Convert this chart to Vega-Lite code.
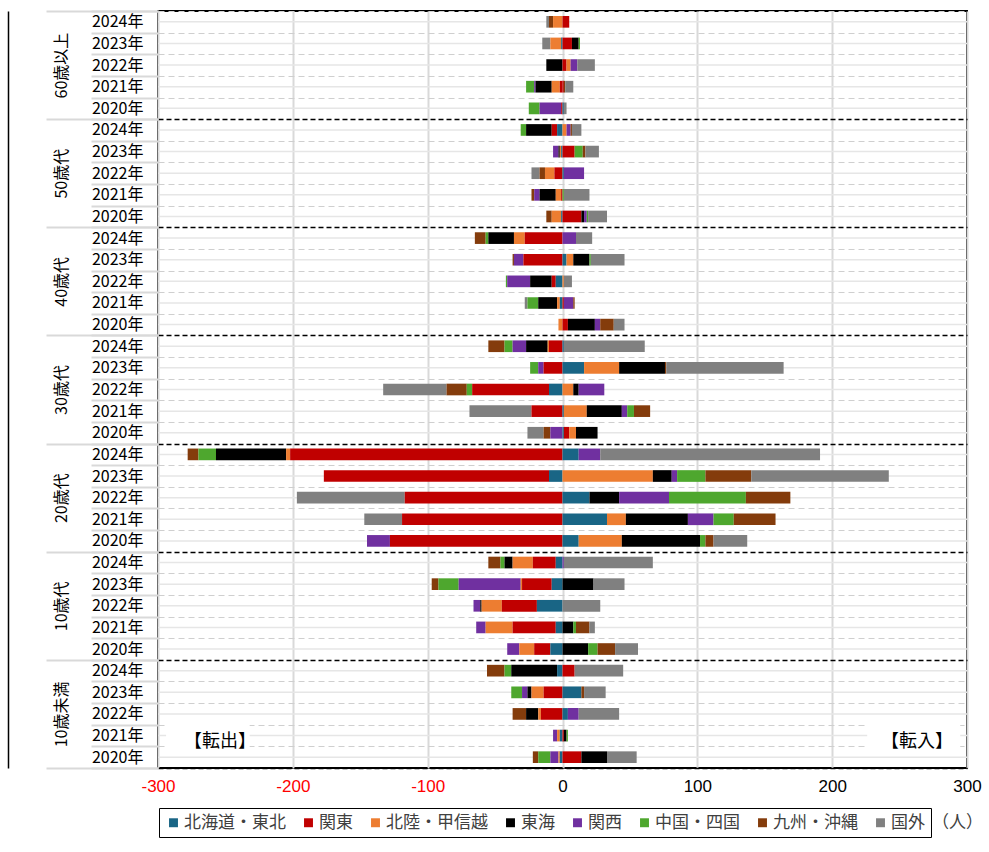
{
  "$schema": "https://vega.github.io/schema/vega-lite/v6.json",
  "width": 809,
  "height": 757,
  "autosize": "none",
  "padding": {"left": 158, "top": 11, "right": 22, "bottom": 84},
  "background": "white",
  "config": {"view": {"stroke": "black", "strokeWidth": 2}, "font": "Noto Sans CJK JP"},
  "datasets": {
    "d": [
      {"k":"60歳以上|2024年","r":"国外","v":-2},{"k":"60歳以上|2024年","r":"九州・沖縄","v":-3},{"k":"60歳以上|2024年","r":"北陸・甲信越","v":-7},{"k":"60歳以上|2024年","r":"関東","v":5},
      {"k":"60歳以上|2023年","r":"国外","v":-6},{"k":"60歳以上|2023年","r":"北陸・甲信越","v":-8},{"k":"60歳以上|2023年","r":"北海道・東北","v":-1},{"k":"60歳以上|2023年","r":"関東","v":7},{"k":"60歳以上|2023年","r":"東海","v":5},{"k":"60歳以上|2023年","r":"中国・四国","v":1},
      {"k":"60歳以上|2022年","r":"東海","v":-12},{"k":"60歳以上|2022年","r":"関東","v":3},{"k":"60歳以上|2022年","r":"北陸・甲信越","v":3},{"k":"60歳以上|2022年","r":"関西","v":5},{"k":"60歳以上|2022年","r":"国外","v":13},
      {"k":"60歳以上|2021年","r":"中国・四国","v":-6},{"k":"60歳以上|2021年","r":"関西","v":-1},{"k":"60歳以上|2021年","r":"東海","v":-12},{"k":"60歳以上|2021年","r":"北陸・甲信越","v":-6},{"k":"60歳以上|2021年","r":"関東","v":-2},{"k":"60歳以上|2021年","r":"関東","v":1},{"k":"60歳以上|2021年","r":"九州・沖縄","v":1},{"k":"60歳以上|2021年","r":"国外","v":6},
      {"k":"60歳以上|2020年","r":"中国・四国","v":-8},{"k":"60歳以上|2020年","r":"関西","v":-16},{"k":"60歳以上|2020年","r":"関東","v":-1},{"k":"60歳以上|2020年","r":"北海道・東北","v":1},{"k":"60歳以上|2020年","r":"国外","v":2},

      {"k":"50歳代|2024年","r":"中国・四国","v":-4},{"k":"50歳代|2024年","r":"東海","v":-19},{"k":"50歳代|2024年","r":"関東","v":-4},{"k":"50歳代|2024年","r":"北海道・東北","v":-4},{"k":"50歳代|2024年","r":"北陸・甲信越","v":3},{"k":"50歳代|2024年","r":"関西","v":3},{"k":"50歳代|2024年","r":"九州・沖縄","v":1},{"k":"50歳代|2024年","r":"国外","v":7},
      {"k":"50歳代|2023年","r":"関西","v":-4},{"k":"50歳代|2023年","r":"東海","v":-1},{"k":"50歳代|2023年","r":"北陸・甲信越","v":-1},{"k":"50歳代|2023年","r":"北海道・東北","v":-1},{"k":"50歳代|2023年","r":"関東","v":9},{"k":"50歳代|2023年","r":"中国・四国","v":6},{"k":"50歳代|2023年","r":"九州・沖縄","v":2},{"k":"50歳代|2023年","r":"国外","v":10},
      {"k":"50歳代|2022年","r":"国外","v":-6},{"k":"50歳代|2022年","r":"九州・沖縄","v":-4},{"k":"50歳代|2022年","r":"北陸・甲信越","v":-7},{"k":"50歳代|2022年","r":"関東","v":-6},{"k":"50歳代|2022年","r":"北海道・東北","v":1},{"k":"50歳代|2022年","r":"関西","v":15},
      {"k":"50歳代|2021年","r":"九州・沖縄","v":-2},{"k":"50歳代|2021年","r":"関西","v":-4},{"k":"50歳代|2021年","r":"東海","v":-12},{"k":"50歳代|2021年","r":"北陸・甲信越","v":-4},{"k":"50歳代|2021年","r":"関東","v":-1},{"k":"50歳代|2021年","r":"中国・四国","v":1},{"k":"50歳代|2021年","r":"国外","v":19},
      {"k":"50歳代|2020年","r":"九州・沖縄","v":-4},{"k":"50歳代|2020年","r":"北陸・甲信越","v":-7},{"k":"50歳代|2020年","r":"北海道・東北","v":-1},{"k":"50歳代|2020年","r":"関東","v":14},{"k":"50歳代|2020年","r":"東海","v":2},{"k":"50歳代|2020年","r":"関西","v":2},{"k":"50歳代|2020年","r":"中国・四国","v":1},{"k":"50歳代|2020年","r":"国外","v":14},

      {"k":"40歳代|2024年","r":"九州・沖縄","v":-8},{"k":"40歳代|2024年","r":"中国・四国","v":-2},{"k":"40歳代|2024年","r":"東海","v":-19},{"k":"40歳代|2024年","r":"北陸・甲信越","v":-8},{"k":"40歳代|2024年","r":"関東","v":-28},{"k":"40歳代|2024年","r":"関西","v":10},{"k":"40歳代|2024年","r":"国外","v":12},
      {"k":"40歳代|2023年","r":"九州・沖縄","v":-1},{"k":"40歳代|2023年","r":"関西","v":-7},{"k":"40歳代|2023年","r":"関東","v":-29},{"k":"40歳代|2023年","r":"北海道・東北","v":3},{"k":"40歳代|2023年","r":"北陸・甲信越","v":5},{"k":"40歳代|2023年","r":"東海","v":12},{"k":"40歳代|2023年","r":"中国・四国","v":1},{"k":"40歳代|2023年","r":"国外","v":25},
      {"k":"40歳代|2022年","r":"中国・四国","v":-1},{"k":"40歳代|2022年","r":"関西","v":-17},{"k":"40歳代|2022年","r":"東海","v":-16},{"k":"40歳代|2022年","r":"関東","v":-3},{"k":"40歳代|2022年","r":"北海道・東北","v":-5},{"k":"40歳代|2022年","r":"北陸・甲信越","v":1},{"k":"40歳代|2022年","r":"国外","v":6},
      {"k":"40歳代|2021年","r":"国外","v":-2},{"k":"40歳代|2021年","r":"中国・四国","v":-8},{"k":"40歳代|2021年","r":"東海","v":-14},{"k":"40歳代|2021年","r":"北陸・甲信越","v":-2},{"k":"40歳代|2021年","r":"北海道・東北","v":-2},{"k":"40歳代|2021年","r":"関東","v":1},{"k":"40歳代|2021年","r":"関西","v":7},{"k":"40歳代|2021年","r":"九州・沖縄","v":1},
      {"k":"40歳代|2020年","r":"北陸・甲信越","v":-3},{"k":"40歳代|2020年","r":"関東","v":4},{"k":"40歳代|2020年","r":"東海","v":20},{"k":"40歳代|2020年","r":"関西","v":4},{"k":"40歳代|2020年","r":"九州・沖縄","v":10},{"k":"40歳代|2020年","r":"国外","v":8},

      {"k":"30歳代|2024年","r":"九州・沖縄","v":-12},{"k":"30歳代|2024年","r":"中国・四国","v":-6},{"k":"30歳代|2024年","r":"関西","v":-10},{"k":"30歳代|2024年","r":"東海","v":-16},{"k":"30歳代|2024年","r":"北陸・甲信越","v":-1},{"k":"30歳代|2024年","r":"関東","v":-10},{"k":"30歳代|2024年","r":"北海道・東北","v":1},{"k":"30歳代|2024年","r":"国外","v":60},
      {"k":"30歳代|2023年","r":"中国・四国","v":-6},{"k":"30歳代|2023年","r":"関西","v":-4},{"k":"30歳代|2023年","r":"関東","v":-14},{"k":"30歳代|2023年","r":"北海道・東北","v":16},{"k":"30歳代|2023年","r":"北陸・甲信越","v":26},{"k":"30歳代|2023年","r":"東海","v":34},{"k":"30歳代|2023年","r":"九州・沖縄","v":1},{"k":"30歳代|2023年","r":"国外","v":87},
      {"k":"30歳代|2022年","r":"国外","v":-47},{"k":"30歳代|2022年","r":"九州・沖縄","v":-15},{"k":"30歳代|2022年","r":"中国・四国","v":-4},{"k":"30歳代|2022年","r":"関東","v":-57},{"k":"30歳代|2022年","r":"北海道・東北","v":-10},{"k":"30歳代|2022年","r":"北陸・甲信越","v":8},{"k":"30歳代|2022年","r":"東海","v":4},{"k":"30歳代|2022年","r":"関西","v":19},
      {"k":"30歳代|2021年","r":"国外","v":-46},{"k":"30歳代|2021年","r":"関東","v":-23},{"k":"30歳代|2021年","r":"北海道・東北","v":1},{"k":"30歳代|2021年","r":"北陸・甲信越","v":17},{"k":"30歳代|2021年","r":"東海","v":26},{"k":"30歳代|2021年","r":"関西","v":4},{"k":"30歳代|2021年","r":"中国・四国","v":5},{"k":"30歳代|2021年","r":"九州・沖縄","v":12},
      {"k":"30歳代|2020年","r":"国外","v":-12},{"k":"30歳代|2020年","r":"九州・沖縄","v":-5},{"k":"30歳代|2020年","r":"関西","v":-9},{"k":"30歳代|2020年","r":"北海道・東北","v":1},{"k":"30歳代|2020年","r":"関東","v":4},{"k":"30歳代|2020年","r":"北陸・甲信越","v":5},{"k":"30歳代|2020年","r":"東海","v":16},

      {"k":"20歳代|2024年","r":"九州・沖縄","v":-8},{"k":"20歳代|2024年","r":"中国・四国","v":-13},{"k":"20歳代|2024年","r":"東海","v":-52},{"k":"20歳代|2024年","r":"北陸・甲信越","v":-3},{"k":"20歳代|2024年","r":"関東","v":-202},{"k":"20歳代|2024年","r":"北海道・東北","v":12},{"k":"20歳代|2024年","r":"関西","v":16},{"k":"20歳代|2024年","r":"国外","v":163},
      {"k":"20歳代|2023年","r":"関東","v":-167},{"k":"20歳代|2023年","r":"北海道・東北","v":-10},{"k":"20歳代|2023年","r":"北陸・甲信越","v":67},{"k":"20歳代|2023年","r":"東海","v":14},{"k":"20歳代|2023年","r":"関西","v":4},{"k":"20歳代|2023年","r":"中国・四国","v":21},{"k":"20歳代|2023年","r":"九州・沖縄","v":34},{"k":"20歳代|2023年","r":"国外","v":102},
      {"k":"20歳代|2022年","r":"国外","v":-80},{"k":"20歳代|2022年","r":"関東","v":-117},{"k":"20歳代|2022年","r":"北海道・東北","v":20},{"k":"20歳代|2022年","r":"東海","v":22},{"k":"20歳代|2022年","r":"関西","v":37},{"k":"20歳代|2022年","r":"中国・四国","v":57},{"k":"20歳代|2022年","r":"九州・沖縄","v":33},
      {"k":"20歳代|2021年","r":"国外","v":-28},{"k":"20歳代|2021年","r":"関東","v":-119},{"k":"20歳代|2021年","r":"北海道・東北","v":33},{"k":"20歳代|2021年","r":"北陸・甲信越","v":14},{"k":"20歳代|2021年","r":"東海","v":46},{"k":"20歳代|2021年","r":"関西","v":19},{"k":"20歳代|2021年","r":"中国・四国","v":15},{"k":"20歳代|2021年","r":"九州・沖縄","v":31},
      {"k":"20歳代|2020年","r":"関西","v":-17},{"k":"20歳代|2020年","r":"関東","v":-128},{"k":"20歳代|2020年","r":"北海道・東北","v":12},{"k":"20歳代|2020年","r":"北陸・甲信越","v":32},{"k":"20歳代|2020年","r":"東海","v":58},{"k":"20歳代|2020年","r":"中国・四国","v":4},{"k":"20歳代|2020年","r":"九州・沖縄","v":6},{"k":"20歳代|2020年","r":"国外","v":25},

      {"k":"10歳代|2024年","r":"九州・沖縄","v":-9},{"k":"10歳代|2024年","r":"中国・四国","v":-3},{"k":"10歳代|2024年","r":"東海","v":-6},{"k":"10歳代|2024年","r":"北陸・甲信越","v":-15},{"k":"10歳代|2024年","r":"関東","v":-17},{"k":"10歳代|2024年","r":"北海道・東北","v":-5},{"k":"10歳代|2024年","r":"関西","v":1},{"k":"10歳代|2024年","r":"国外","v":66},
      {"k":"10歳代|2023年","r":"九州・沖縄","v":-5},{"k":"10歳代|2023年","r":"中国・四国","v":-15},{"k":"10歳代|2023年","r":"関西","v":-46},{"k":"10歳代|2023年","r":"北陸・甲信越","v":-1},{"k":"10歳代|2023年","r":"関東","v":-22},{"k":"10歳代|2023年","r":"北海道・東北","v":-8},{"k":"10歳代|2023年","r":"東海","v":23},{"k":"10歳代|2023年","r":"国外","v":23},
      {"k":"10歳代|2022年","r":"関西","v":-5},{"k":"10歳代|2022年","r":"東海","v":-1},{"k":"10歳代|2022年","r":"北陸・甲信越","v":-15},{"k":"10歳代|2022年","r":"関東","v":-26},{"k":"10歳代|2022年","r":"北海道・東北","v":-19},{"k":"10歳代|2022年","r":"国外","v":28},
      {"k":"10歳代|2021年","r":"関西","v":-7},{"k":"10歳代|2021年","r":"北陸・甲信越","v":-20},{"k":"10歳代|2021年","r":"関東","v":-32},{"k":"10歳代|2021年","r":"北海道・東北","v":-5},{"k":"10歳代|2021年","r":"東海","v":8},{"k":"10歳代|2021年","r":"中国・四国","v":2},{"k":"10歳代|2021年","r":"九州・沖縄","v":10},{"k":"10歳代|2021年","r":"国外","v":4},
      {"k":"10歳代|2020年","r":"関西","v":-9},{"k":"10歳代|2020年","r":"北陸・甲信越","v":-11},{"k":"10歳代|2020年","r":"関東","v":-12},{"k":"10歳代|2020年","r":"北海道・東北","v":-9},{"k":"10歳代|2020年","r":"東海","v":19},{"k":"10歳代|2020年","r":"中国・四国","v":7},{"k":"10歳代|2020年","r":"九州・沖縄","v":13},{"k":"10歳代|2020年","r":"国外","v":17},

      {"k":"10歳未満|2024年","r":"九州・沖縄","v":-13},{"k":"10歳未満|2024年","r":"中国・四国","v":-5},{"k":"10歳未満|2024年","r":"東海","v":-34},{"k":"10歳未満|2024年","r":"北海道・東北","v":-4},{"k":"10歳未満|2024年","r":"関東","v":9},{"k":"10歳未満|2024年","r":"国外","v":36},
      {"k":"10歳未満|2023年","r":"中国・四国","v":-8},{"k":"10歳未満|2023年","r":"関西","v":-4},{"k":"10歳未満|2023年","r":"東海","v":-3},{"k":"10歳未満|2023年","r":"北陸・甲信越","v":-9},{"k":"10歳未満|2023年","r":"関東","v":-14},{"k":"10歳未満|2023年","r":"北海道・東北","v":14},{"k":"10歳未満|2023年","r":"九州・沖縄","v":2},{"k":"10歳未満|2023年","r":"国外","v":16},
      {"k":"10歳未満|2022年","r":"九州・沖縄","v":-10},{"k":"10歳未満|2022年","r":"東海","v":-9},{"k":"10歳未満|2022年","r":"北陸・甲信越","v":-2},{"k":"10歳未満|2022年","r":"関東","v":-16},{"k":"10歳未満|2022年","r":"北海道・東北","v":4},{"k":"10歳未満|2022年","r":"関西","v":8},{"k":"10歳未満|2022年","r":"国外","v":30},
      {"k":"10歳未満|2021年","r":"関西","v":-3},{"k":"10歳未満|2021年","r":"北陸・甲信越","v":-2},{"k":"10歳未満|2021年","r":"北海道・東北","v":-2},{"k":"10歳未満|2021年","r":"関東","v":1},{"k":"10歳未満|2021年","r":"東海","v":2},{"k":"10歳未満|2021年","r":"中国・四国","v":1},
      {"k":"10歳未満|2020年","r":"九州・沖縄","v":-4},{"k":"10歳未満|2020年","r":"中国・四国","v":-9},{"k":"10歳未満|2020年","r":"関西","v":-6},{"k":"10歳未満|2020年","r":"北陸・甲信越","v":-1},{"k":"10歳未満|2020年","r":"北海道・東北","v":-2},{"k":"10歳未満|2020年","r":"関東","v":14},{"k":"10歳未満|2020年","r":"東海","v":19},{"k":"10歳未満|2020年","r":"国外","v":22}
    ]
  },
  "layer": [
    {
      "encoding": {
        "y": {
          "field": "k", "type": "nominal",
          "scale": {"domain": ["60歳以上|2024年","60歳以上|2023年","60歳以上|2022年","60歳以上|2021年","60歳以上|2020年","50歳代|2024年","50歳代|2023年","50歳代|2022年","50歳代|2021年","50歳代|2020年","40歳代|2024年","40歳代|2023年","40歳代|2022年","40歳代|2021年","40歳代|2020年","30歳代|2024年","30歳代|2023年","30歳代|2022年","30歳代|2021年","30歳代|2020年","20歳代|2024年","20歳代|2023年","20歳代|2022年","20歳代|2021年","20歳代|2020年","10歳代|2024年","10歳代|2023年","10歳代|2022年","10歳代|2021年","10歳代|2020年","10歳未満|2024年","10歳未満|2023年","10歳未満|2022年","10歳未満|2021年","10歳未満|2020年"], "paddingInner": 0, "paddingOuter": 0},
          "axis": {
            "title": null, "orient": "left",
            "labelExpr": "split('' + datum.label, '|')[1]",
            "labelFontSize": 16, "labelFont": "Noto Sans CJK JP", "labelColor": "black",
            "tickBand": "extent", "ticks": true, "tickSize": 67, "tickColor": "#d9d9d9", "tickWidth": 2,
            "domain": false, "labelPadding": -52,
            "grid": true,
            "gridColor": {"condition": {"test": "indexof('' + datum.value, '2020年') >= 0", "value": "black"}, "value": "#cfcfcf"},
            "gridDash": {"condition": {"test": "indexof('' + datum.value, '2020年') >= 0", "value": [5, 3]}, "value": [6, 4]},
            "gridWidth": {"condition": {"test": "indexof('' + datum.value, '2020年') >= 0", "value": 1.6}, "value": 1.2}
          }
        }
      },
      "layer": [
        {
          "data": {"name": "d"},
          "transform": [{"aggregate": [{"op": "count", "as": "n"}], "groupby": ["k"]}],
          "mark": {"type": "rule", "color": "#e6e6e6", "strokeWidth": 1.5},
          "encoding": {}
        },
        {
          "data": {"values": [{"k": "10歳未満|2021年"}]},
          "mark": {"type": "rect", "color": "white", "height": {"band": 1.66}},
          "encoding": {"x": {"datum": -294, "type": "quantitative"}, "x2": {"datum": -232}}
        },
        {
          "data": {"values": [{"k": "10歳未満|2021年"}]},
          "mark": {"type": "rect", "color": "white", "height": {"band": 1.66}},
          "encoding": {"x": {"datum": 226, "type": "quantitative"}, "x2": {"datum": 295}}
        },
        {
          "data": {"name": "d"},
          "transform": [{"calculate": "indexof(['北海道・東北','関東','北陸・甲信越','東海','関西','中国・四国','九州・沖縄','国外'], datum.r)", "as": "o"}],
          "mark": {"type": "bar", "height": {"band": 0.54}},
          "encoding": {
            "x": {
              "field": "v", "type": "quantitative", "stack": "zero",
              "scale": {"domain": [-300, 300], "nice": false, "zero": false},
              "axis": {
                "values": [-300, -200, -100, 0, 100, 200, 300],
                "labelExpr": "'' + datum.value",
                "labelColor": {"condition": {"test": "datum.value < 0", "value": "#ff0000"}, "value": "black"},
                "labelFontSize": 17, "labelFont": "Liberation Sans", "labelFlush": false,
                "ticks": false, "domain": false, "labelPadding": 10,
                "grid": true, "gridColor": "#d9d9d9", "gridWidth": 2,
                "title": "（人）", "titleX": 799, "titleY": 54, "titleAlign": "center", "titleBaseline": "middle",
                "titleFontSize": 17, "titleFontWeight": "normal", "titleFont": "Noto Sans CJK JP", "titleColor": "#404040"
              }
            },
            "color": {
              "field": "r", "type": "nominal",
              "sort": ["北海道・東北","関東","北陸・甲信越","東海","関西","中国・四国","九州・沖縄","国外"],
              "scale": {"domain": ["北海道・東北","関東","北陸・甲信越","東海","関西","中国・四国","九州・沖縄","国外"],
                        "range": ["#196585","#c00000","#ed7d31","#000000","#7030a0","#4ea72e","#843c0c","#808080"]},
              "legend": {
                "orient": "none", "legendX": 1, "legendY": 797, "direction": "horizontal", "columns": 8,
                "title": null, "symbolType": "square", "symbolSize": 80, "symbolStrokeWidth": 0,
                "labelFontSize": 17, "labelFont": "Noto Sans CJK JP", "labelColor": "#404040",
                "strokeColor": "black", "padding": 6, "columnPadding": 14, "labelOffset": 2,
                "fillColor": "white"
              }
            },
            "order": {"field": "o", "type": "quantitative"}
          }
        },
        {
          "data": {"values": [{"k": "10歳未満|2021年"}]},
          "mark": {"type": "text", "fontSize": 18, "font": "Noto Sans CJK JP", "color": "black", "dy": 6},
          "encoding": {"x": {"datum": -254, "type": "quantitative"}, "text": {"value": "【転出】"}}
        },
        {
          "data": {"values": [{"k": "10歳未満|2021年"}]},
          "mark": {"type": "text", "fontSize": 18, "font": "Noto Sans CJK JP", "color": "black", "dy": 6},
          "encoding": {"x": {"datum": 263, "type": "quantitative"}, "text": {"value": "【転入】"}}
        }
      ]
    },
    {
      "data": {"values": [{"a": "60歳以上"}, {"a": "50歳代"}, {"a": "40歳代"}, {"a": "30歳代"}, {"a": "20歳代"}, {"a": "10歳代"}, {"a": "10歳未満"}]},
      "mark": {"type": "point", "opacity": 0},
      "encoding": {
        "y": {
          "field": "a", "type": "nominal",
          "scale": {"domain": ["60歳以上","50歳代","40歳代","30歳代","20歳代","10歳代","10歳未満"], "paddingInner": 0, "paddingOuter": 0},
          "axis": {
            "title": null, "orient": "left",
            "tickBand": "extent", "ticks": true, "tickSize": 112, "tickColor": "#d9d9d9", "tickWidth": 2,
            "domain": false, "grid": false,
            "labelAngle": -90, "labelAlign": "center", "labelBaseline": "bottom",
            "labelFontSize": 16, "labelFont": "Noto Sans CJK JP", "labelColor": "black", "labelPadding": -23
          }
        }
      }
    },
    {
      "data": {"values": [{"f": "frame"}]},
      "mark": {"type": "point", "opacity": 0},
      "encoding": {
        "y": {
          "field": "f", "type": "nominal",
          "axis": {
            "title": null, "orient": "left", "offset": 150,
            "domain": true, "domainColor": "black", "domainWidth": 1.5,
            "ticks": false, "labels": false, "grid": false
          }
        }
      }
    }
  ],
  "resolve": {"scale": {"y": "independent"}}
}
